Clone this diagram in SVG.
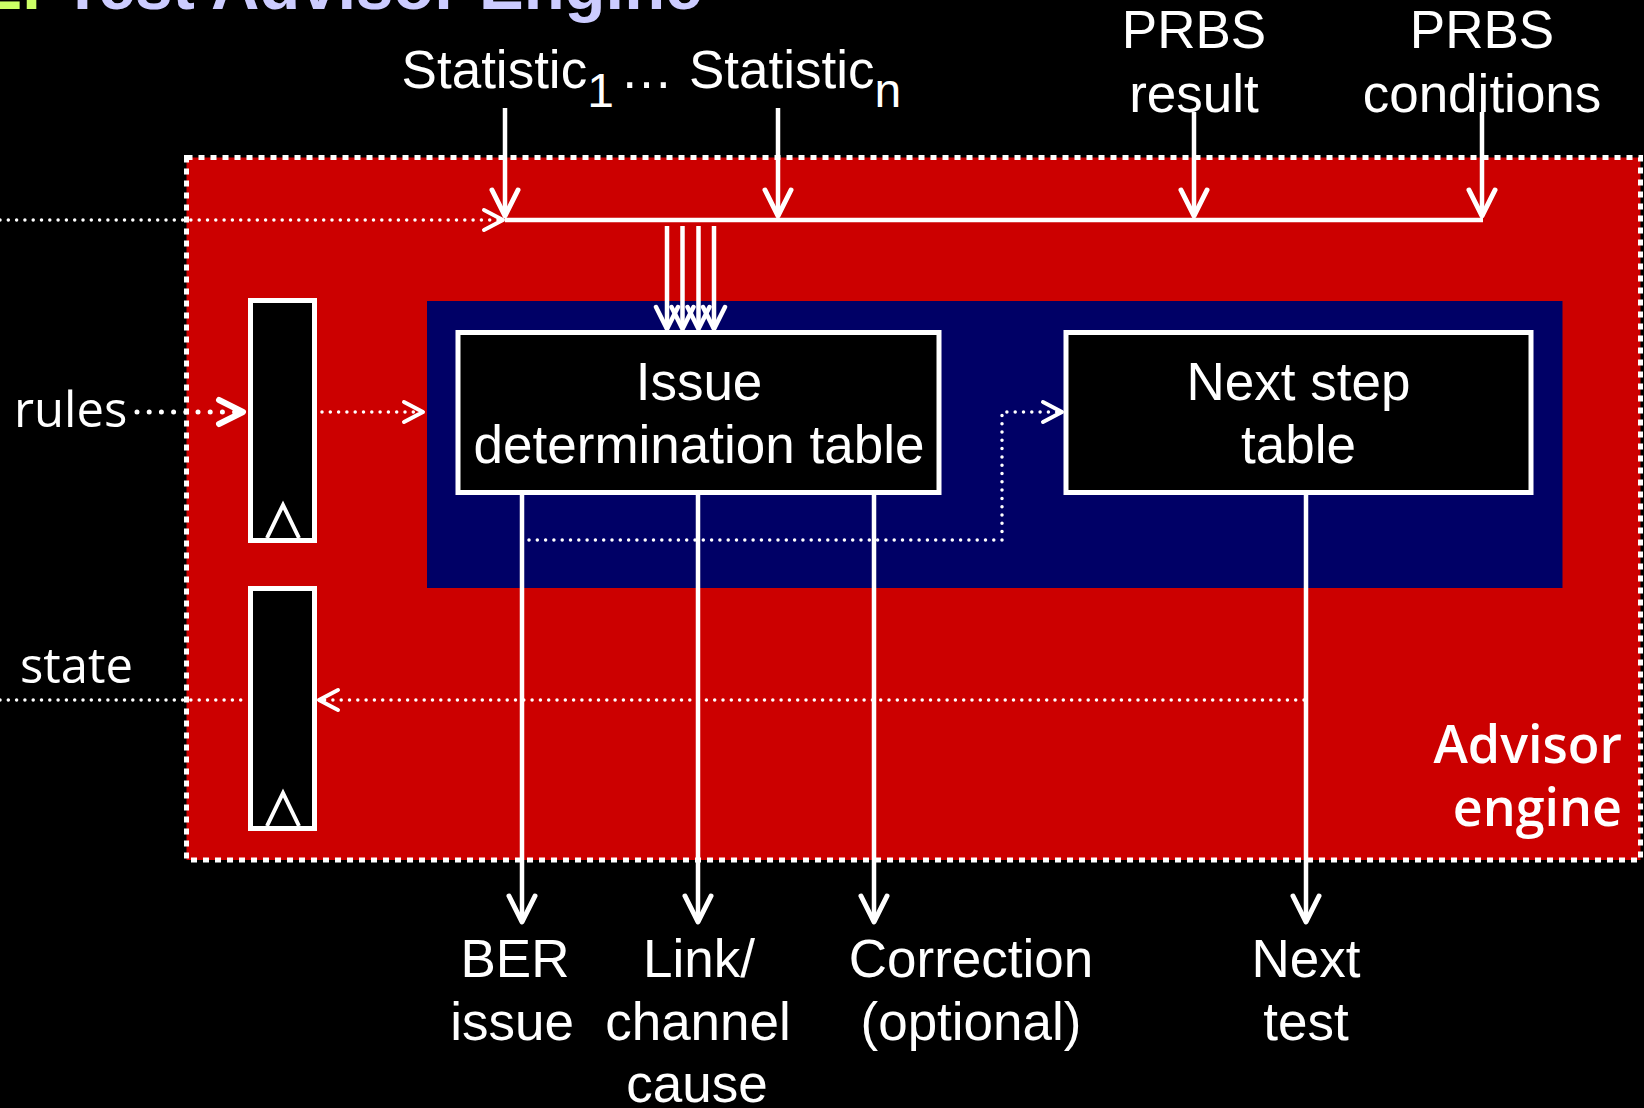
<svg xmlns="http://www.w3.org/2000/svg" width="1644" height="1108" viewBox="0 0 1644 1108">
<defs>
<style>
.t{font-family:"Liberation Sans",Arial,sans-serif;font-size:53px;fill:#fff}
.c{text-anchor:middle}
.h{font-family:"Open Sans","DejaVu Sans",sans-serif;font-size:49px;fill:#fff}
.hb{font-family:"Open Sans","DejaVu Sans",sans-serif;font-size:52px;font-weight:600;fill:#fff;text-anchor:end}
.sol{stroke:#fff;stroke-width:4.5;fill:none}
.dot{stroke:#fff;stroke-width:3.5;fill:none;stroke-dasharray:0 8.3;stroke-linecap:round}
.dotL{stroke:#fff;stroke-width:5;fill:none;stroke-dasharray:0 12.2;stroke-linecap:round}
.mk{stroke:#fff;fill:none;stroke-linecap:round;stroke-linejoin:round}
.box{fill:#000;stroke:#fff;stroke-width:5}
.tri{fill:none;stroke:#fff;stroke-width:4;stroke-linejoin:miter}
</style>
<marker id="a" viewBox="-30 -16 34 32" refX="0" refY="0" markerWidth="34" markerHeight="32" markerUnits="userSpaceOnUse" orient="auto">
<path class="mk" d="M-26,-13 L0,0 L-26,13" stroke-width="5"/>
</marker>
<marker id="as" viewBox="-26 -14 30 28" refX="0" refY="0" markerWidth="30" markerHeight="28" markerUnits="userSpaceOnUse" orient="auto">
<path class="mk" d="M-22,-11 L0,0 L-22,11" stroke-width="4.5"/>
</marker>
<marker id="ch" viewBox="-24 -14 28 28" refX="0" refY="0" markerWidth="28" markerHeight="28" markerUnits="userSpaceOnUse" orient="auto">
<path class="mk" d="M-19,-10 L0,0 L-19,10" stroke-width="4"/>
</marker>
<marker id="chL" viewBox="-30 -16 34 32" refX="0" refY="0" markerWidth="34" markerHeight="32" markerUnits="userSpaceOnUse" orient="auto">
<path class="mk" d="M-24,-12 L0,0 L-24,12" stroke-width="6"/>
</marker>
</defs>
<rect x="0" y="0" width="1644" height="1108" fill="#000"/>
<g id="title" font-family="'Liberation Sans',Arial,sans-serif" font-size="67" font-weight="bold">
<text x="-15" y="9" fill="#CCFF66">2.</text>
<text x="62" y="9" fill="#CCCCFF">Test Advisor Engine</text>
</g>
<g id="advisor-engine">
<rect x="186.5" y="157.5" width="1454" height="702.5" fill="#CC0000" stroke="#fff" stroke-width="5" stroke-dasharray="6 6"/>
<text class="hb" x="1622" y="763">Advisor</text>
<text class="hb" x="1622" y="826">engine</text>
</g>
<g id="table-area">
<rect x="427" y="301" width="1135.5" height="287" fill="#000066"/>
</g>
<g id="rules-register">
<rect class="box" x="250.5" y="300.5" width="64" height="240"/>
<path class="tri" d="M267,538 L283,505 L299,538"/>
</g>
<g id="state-register">
<rect class="box" x="250.5" y="588.5" width="64" height="240"/>
<path class="tri" d="M267,826 L283,793 L299,826"/>
</g>
<g id="issue-table">
<rect class="box" x="458" y="332.5" width="481" height="160"/>
<text class="t c" x="699" y="400">Issue</text>
<text class="t c" x="699" y="463">determination table</text>
</g>
<g id="next-step-table">
<rect class="box" x="1066" y="332.5" width="465" height="160"/>
<text class="t c" x="1298.5" y="400">Next step</text>
<text class="t c" x="1298.5" y="463">table</text>
</g>
<g id="labels">
<text class="t" x="401.6" y="88">Statistic<tspan font-size="48" dy="19">1</tspan></text>
<text class="t" x="620" y="88">…</text>
<text class="t" x="689" y="88">Statistic<tspan font-size="48" dy="19">n</tspan></text>
<text class="t c" x="1194" y="48">PRBS</text>
<text class="t c" x="1194" y="112">result</text>
<text class="t c" x="1482" y="48">PRBS</text>
<text class="t c" x="1482" y="112">conditions</text>
<text class="h" x="14" y="427">rules</text>
<text class="h" x="20" y="683">state</text>
<text class="t c" x="515" y="977">BER</text>
<text class="t c" x="512" y="1040">issue</text>
<text class="t c" x="699" y="977">Link/</text>
<text class="t c" x="698" y="1040">channel</text>
<text class="t c" x="697" y="1102">cause</text>
<text class="t c" x="971" y="977">Correction</text>
<text class="t c" x="971" y="1040">(optional)</text>
<text class="t c" x="1306" y="977">Next</text>
<text class="t c" x="1306" y="1040">test</text>
</g>
<g id="connectors">
<path class="dot" d="M0,220 L503,220" marker-end="url(#ch)"/>
<path class="sol" d="M505,220 L1483,220" stroke-width="3.5"/>
<path class="sol" d="M505,108 L505,216" marker-end="url(#a)"/>
<path class="sol" d="M778,108 L778,216" marker-end="url(#a)"/>
<path class="sol" d="M1194,112 L1194,216" marker-end="url(#a)"/>
<path class="sol" d="M1482,112 L1482,216" marker-end="url(#a)"/>
<path class="sol" d="M667,226 L667,329" marker-end="url(#as)"/>
<path class="sol" d="M682.5,226 L682.5,329" marker-end="url(#as)"/>
<path class="sol" d="M698.5,226 L698.5,329" marker-end="url(#as)"/>
<path class="sol" d="M714,226 L714,329" marker-end="url(#as)"/>
<path class="dotL" d="M137,412 L243,412" marker-end="url(#chL)"/>
<path class="dot" d="M322,412 L423,412" marker-end="url(#ch)"/>
<path class="dot" d="M529,540 L1002,540 L1002,412 L1062,412" marker-end="url(#ch)"/>
<path class="sol" d="M522,495 L522,922" marker-end="url(#a)"/>
<path class="sol" d="M698,495 L698,922" marker-end="url(#a)"/>
<path class="sol" d="M874,495 L874,922" marker-end="url(#a)"/>
<path class="sol" d="M1306,495 L1306,922" marker-end="url(#a)"/>
<path class="dot" d="M1304,700 L319,700" marker-end="url(#ch)"/>
<path class="dot" d="M0,700 L248,700"/>
</g>
</svg>
